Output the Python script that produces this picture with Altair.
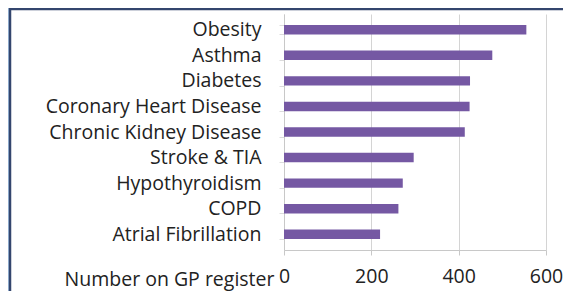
import altair as alt
import pandas as pd

categories = ["Obesity", "Asthma", "Diabetes", "Coronary Heart Disease",
              "Chronic Kidney Disease", "Stroke & TIA", "Hypothyroidism",
              "COPD", "Atrial Fibrillation"]
values = [555, 477, 426, 425, 414, 297, 272, 262, 220]
x_ticks = [0, 200, 400, 600]

df = pd.DataFrame({"condition": categories, "count": values})
FONT = "Open Sans"

bars = alt.Chart(df).mark_bar(color="#7558a3").encode(
    x=alt.X("count:Q",
            scale=alt.Scale(domain=[0, 600], nice=False),
            axis=alt.Axis(values=x_ticks, grid=True, gridColor="#d4d4d4",
                          domainColor="#c8c8c8", tickColor="#c8c8c8", tickSize=5,
                          labelFont=FONT, labelFontSize=19.5, labelColor="#222222",
                          labelPadding=12, labelFlush=False,
                          title="Number on GP register", titleFont=FONT,
                          titleFontSize=19.5, titleFontWeight="normal",
                          titleColor="#222222", titleAlign="right",
                          titleBaseline="middle", titleX=-10, titleY=29)),
    y=alt.Y("condition:N", sort=categories,
            scale=alt.Scale(paddingInner=0.63, paddingOuter=0.43),
            axis=alt.Axis(title=None, labelFont=FONT, labelFontSize=19.5,
                          labelColor="#222222", labelPadding=18, labelLimit=400,
                          domainColor="#c8c8c8", tickColor="#dcdcdc",
                          tickSize=5, tickBand="extent", grid=False)),
)

frame_df = pd.DataFrame({"a": [0]})
halo = alt.Chart(frame_df).mark_rect(fill=None, stroke="#a9c8e8", strokeWidth=4).encode(
    x=alt.value(-275), x2=alt.value(320), y=alt.value(-6), y2=alt.value(320))
frame = alt.Chart(frame_df).mark_rect(fill=None, stroke="#34466e", strokeWidth=2.5).encode(
    x=alt.value(-274), x2=alt.value(320), y=alt.value(-5), y2=alt.value(320))

chart = alt.layer(bars, halo, frame).properties(
    width=262, height=236,
    autosize=alt.AutoSizeParams(type="none"),
    padding={"left": 276, "top": 6, "right": 17, "bottom": 41},
).configure_view(stroke=None)

chart.save("out.html", embed_options={"renderer": "svg", "actions": False})
